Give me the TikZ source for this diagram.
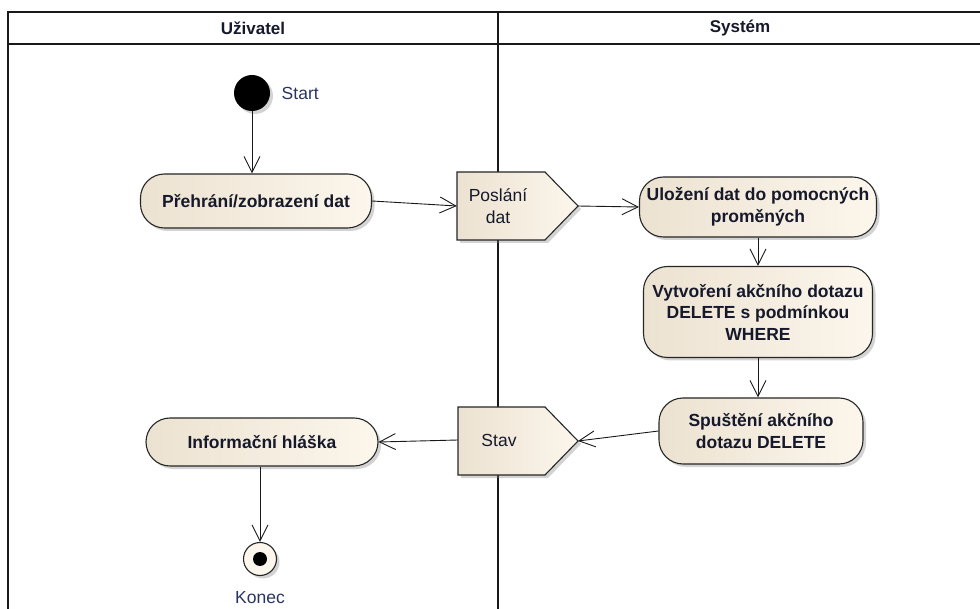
\documentclass[tikz,border=0pt]{standalone}
\usepackage{fontspec}
\setmainfont{Liberation Sans}
\usetikzlibrary{arrows.meta,shadows}
\definecolor{actL}{HTML}{ECE2D1}
\definecolor{actR}{HTML}{FCF6EC}
\definecolor{ink}{HTML}{16192B}
\definecolor{navy}{HTML}{2A3463}
\begin{document}
\begin{tikzpicture}[x=1pt,y=-1pt,
  shade/.style={drop shadow={opacity=0.35,shadow xshift=3pt,shadow yshift=-3pt}},
  action/.style={draw=black!85, line width=1.1pt, rounded corners=24pt,
    left color=actL, right color=actR, shade, align=center, inner sep=0pt,
    text=ink, font=\fontsize{17.5}{21.5}\selectfont\bfseries},
  pentagon/.style={draw=black!85, line width=1.1pt, left color=actL, right color=actR, shade},
  sigtext/.style={inner sep=0pt, align=center, text=ink, font=\fontsize{17.5}{21.5}\selectfont},
  flow/.style={line width=0.9pt, draw=black!90,
    -{Straight Barb[length=16pt,width=16pt,line width=0.9pt]}},
  lane/.style={line width=1.6pt, draw=black!90},
  lanehead/.style={font=\fontsize{17}{20}\selectfont\bfseries, text=ink},
  lbl/.style={font=\fontsize{17.5}{20}\selectfont, text=navy}]
\useasboundingbox (0,0) rectangle (980,609);

% swimlane frame
\draw[lane] (8,609) -- (8,12) -- (980,12);
\draw[lane] (8,44) -- (980,44);
\draw[lane] (498,12) -- (498,609);
\node[lanehead] (hUser) at (253,28) {Uživatel};
\node[lanehead] (hSys) at (740,28) {Systém};

% initial and final nodes
\node[circle, fill=black, minimum size=36pt, inner sep=0pt, shade,
      label={[lbl, xshift=8pt]right:Start}] (start) at (252,93) {};
\node[circle, draw=black!85, line width=1.1pt, fill=actR, minimum size=33pt,
      inner sep=0pt, shade, label={[lbl, yshift=-12pt]below:Konec}] (finish) at (260,559) {};
\node[circle, fill=black, minimum size=14pt, inner sep=0pt] (finishDot) at (finish) {};

% actions
\node[action, minimum width=231pt, minimum height=54pt] (a1) at (256,201) {Přehrání/zobrazení dat};
\node[action, minimum width=237pt, minimum height=60pt] (a2) at (758,207) {Uložení dat do pomocných\\proměných};
\node[action, minimum width=229pt, minimum height=91pt] (a3) at (758,312) {Vytvoření akčního dotazu\\DELETE s podmínkou\\WHERE};
\node[action, minimum width=204pt, minimum height=66pt] (a4) at (761,431) {Spuštění akčního\\dotazu DELETE};
\node[action, minimum width=232pt, minimum height=48pt] (a5) at (262,442) {Informační hláška};

% send signal shapes: outline first, then the text node over its body
\path[pentagon] (457,172) -- (545,172) -- (578,206) -- (545,240) -- (457,240) -- cycle;
\node[sigtext, minimum width=82pt, minimum height=68pt] (posl) at (498,206) {Poslání\\dat};
\coordinate (poslTip) at (578,206);
\path[pentagon] (458,407) -- (545,407) -- (578,441) -- (545,475) -- (458,475) -- cycle;
\node[sigtext, minimum width=82pt, minimum height=68pt] (stav) at (499,440) {Stav};
\coordinate (stavTip) at (578,441);

% control flows
\draw[flow] (start) -- (start |- a1.north);
\draw[flow] (a1.east) -- (posl.west);
\draw[flow] (poslTip) -- (a2.west);
\draw[flow] (a2.south) -- (a3.north);
\draw[flow] (a3.south) -- (a3.south |- a4.north);
\draw[flow] (a4.west) -- (stavTip);
\draw[flow] (stav.west) -- (a5.east);
\draw[flow] (finish |- a5.south) -- (finish.north);
\end{tikzpicture}
\end{document}
